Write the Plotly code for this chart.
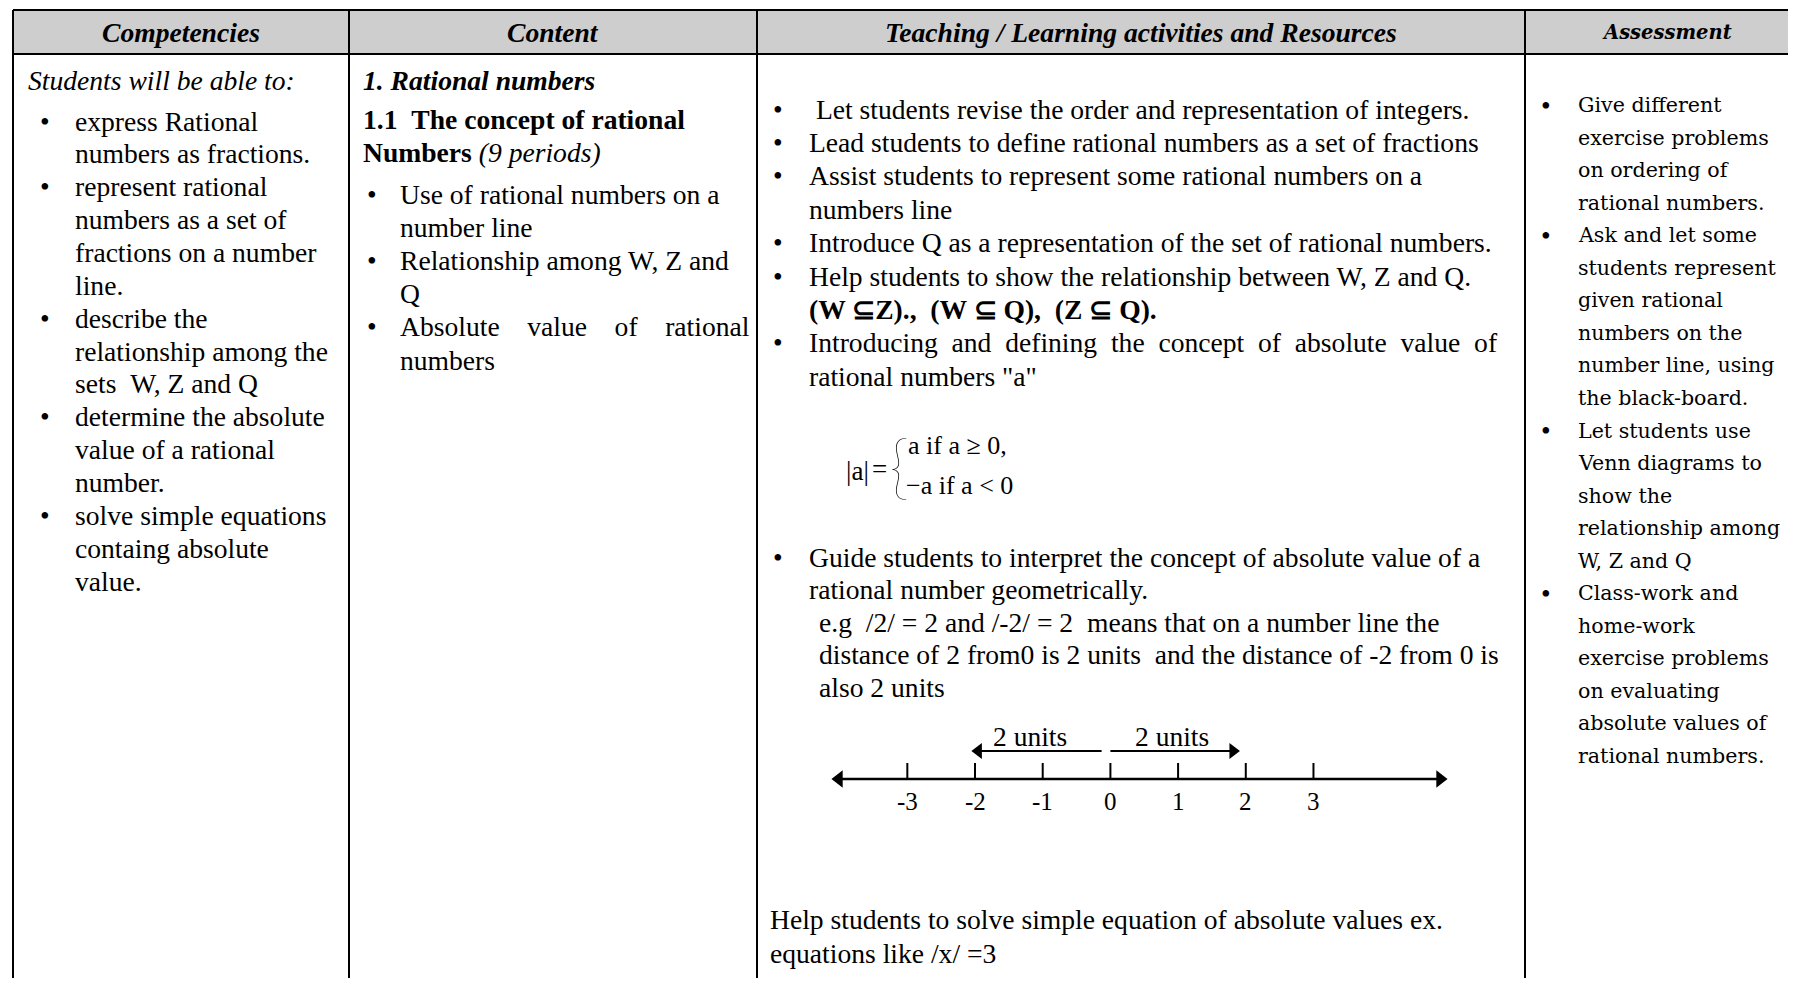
import re
import plotly.graph_objects as go

# ---- table content ----
headers = ["Competencies", "Content", "Teaching / Learning activities and Resources", "Assessment"]

competency_intro = "Students will be able to:"
competencies = [
    ["express Rational", "numbers as fractions."],
    ["represent rational", "numbers as a set of", "fractions on a number", "line."],
    ["describe the", "relationship among the", "sets  W, Z and Q"],
    ["determine the absolute", "value of a rational", "number."],
    ["solve simple equations", "containg absolute", "value."],
]

content_title = "1. Rational numbers"
content_heading = "1.1  The concept of rational"
content_heading2 = "Numbers"
content_periods = "(9 periods)"
content_items = [
    ["Use of rational numbers on a", "number line"],
    ["Relationship among W, Z and", "Q"],
    ["Absolute    value    of    rational", "numbers"],
]

teaching_items = [
    [" Let students revise the order and representation of integers."],
    ["Lead students to define rational numbers as a set of fractions"],
    ["Assist students to represent some rational numbers on a", "numbers line"],
    ["Introduce Q as a representation of the set of rational numbers."],
    ["Help students to show the relationship between W, Z and Q.",
     "<b>(W \u2286Z).,  (W \u2286 Q),  (Z \u2286 Q).</b>"],
    ["Introducing  and  defining  the  concept  of  absolute  value  of",
     "rational numbers \"a\""],
]
abs_lhs = ["|a|", "="]
abs_cases = ["a if a \u2265 0,", "\u2212a if a < 0"]
guide_item = ["Guide students to interpret the concept of absolute value of a",
              "rational number geometrically."]
guide_example = ["e.g  /2/ = 2 and /-2/ = 2  means that on a number line the",
                 "distance of 2 from0 is 2 units  and the distance of -2 from 0 is",
                 "also 2 units"]
closing_lines = ["Help students to solve simple equation of absolute values ex.",
                 "equations like /x/ =3"]

# number line (values in number-line units)
number_ticks = [-3, -2, -1, 0, 1, 2, 3]
number_line_ends = [-4.01, 4.87]
distance_arrows = [[-0.13, -1.95], [0.0, 1.81]]
distance_labels = ["2 units", "2 units"]
distance_label_at = [-1.19, 0.91]

assessment_items = [
    ["Give different", "exercise problems", "on ordering of", "rational numbers."],
    ["Ask and let some", "students represent", "given rational", "numbers on the",
     "number line, using", "the black-board."],
    ["Let students use", "Venn diagrams to", "show the", "relationship among", "W, Z and Q"],
    ["Class-work and", "home-work", "exercise problems", "on evaluating",
     "absolute values of", "rational numbers."],
]

# ---- page layout (pixels of the page) ----
SERIF = "Liberation Serif"
WIDE = "DejaVu Serif"
FS = 27.6
PAGE_W, PAGE_H = 1796, 986
BODY = 8  # default html body margin
col_edges = [13, 349, 757, 1525, 1809]
top_y, head_y = 10, 54
# number line scale: page x = NL0 + NL_UNIT * value
NL0, NL_UNIT = 1110.4, 67.69


def nb(s):
    s = re.sub(r" {2,}", lambda m: "\u00a0" * len(m.group()), s)
    if s.startswith(" "):
        s = "\u00a0" + s[1:]
    return s


ann = []


def put(x, y, s, size=FS, family=SERIF, xanchor="left", xref="x", weight=None):
    font = dict(family=family, size=size, color="black")
    if weight:
        font["weight"] = weight
    ann.append(dict(x=x, y=y, xref=xref, yref="y", text=nb(s), showarrow=False,
                    xanchor=xanchor, yanchor="middle", borderpad=0, font=font))


def bullets(items, y0, step, bx, tx, size=FS, family=SERIF):
    y = y0
    for item in items:
        for k, line in enumerate(item):
            if k == 0:
                put(bx, y, "\u2022", size=FS, family=SERIF, xanchor="center")
            put(tx, y, line, size=size, family=family)
            y += step
    return y


fig = go.Figure()

# header band and grid
shapes = [dict(type="rect", xref="x", yref="y", x0=col_edges[0], x1=col_edges[-1],
               y0=top_y, y1=head_y, fillcolor="#cecece", line_width=0, layer="below")]
shapes.append(dict(type="line", xref="x", yref="y", x0=col_edges[0], x1=col_edges[-1],
                   y0=top_y, y1=top_y, line=dict(color="black", width=2)))
shapes.append(dict(type="line", xref="x", yref="y", x0=col_edges[0], x1=col_edges[-1],
                   y0=head_y, y1=head_y, line=dict(color="black", width=2)))
for cx in col_edges[:-1]:
    shapes.append(dict(type="line", xref="x", yref="y", x0=cx, x1=cx,
                       y0=top_y, y1=PAGE_H + 5, line=dict(color="black", width=2)))

# header text
for i, h in enumerate(headers):
    cx = (col_edges[i] + col_edges[i + 1]) / 2
    if i == 3:
        put(cx, 32, "<b><i>%s</i></b>" % h, size=19.5, family=WIDE, xanchor="center")
    else:
        put(cx, 32, "<b><i>%s</i></b>" % h, xanchor="center")

# competencies
put(27, 80, "<i>%s</i>" % competency_intro)
bullets(competencies, 121, 32.86, 45, 74)

# content
put(362, 80, "<b><i>%s</i></b>" % content_title)
put(362, 119, "<b>%s</b>" % content_heading)
put(362, 152, "<b>%s</b> <i>%s</i>" % (content_heading2, content_periods))
bullets(content_items, 194, 33.2, 372, 399)

# teaching / learning
bullets(teaching_items, 109, 33.4, 778, 808)
put(845, 471, abs_lhs[0], size=27)
put(879, 469, abs_lhs[1], size=27, xanchor="center")
put(899, 464, "{", size=70, family="Lato", weight=200, xanchor="center")
put(907, 445, abs_cases[0], size=26)
put(905, 485, abs_cases[1], size=26)
bullets([guide_item], 557, 32.8, 778, 808)
for k, line in enumerate(guide_example):
    put(818, 622 + 32.5 * k, line)
for k, line in enumerate(closing_lines):
    put(769, 919 + 34 * k, line)

# number line
line_y, tick_top, label_y, dist_y, dist_label_y = 779, 763, 801, 751, 736
fig.add_trace(go.Scatter(x=number_line_ends, y=[line_y, line_y], xaxis="x2", yaxis="y",
                         mode="lines", line=dict(color="black", width=2.5),
                         hoverinfo="skip"))
fig.add_trace(go.Scatter(x=number_line_ends, y=[line_y, line_y], xaxis="x2", yaxis="y",
                         mode="markers", hoverinfo="skip",
                         marker=dict(symbol=["triangle-left", "triangle-right"], size=15,
                                     color="black")))
tx, ty = [], []
for v in number_ticks:
    tx += [v, v, None]
    ty += [tick_top, line_y, None]
fig.add_trace(go.Scatter(x=tx, y=ty, xaxis="x2", yaxis="y", mode="lines",
                         line=dict(color="black", width=2), hoverinfo="skip"))
for v in number_ticks:
    put(v, label_y, str(v), size=25, xanchor="center", xref="x2")
for (a, b), lab, at in zip(distance_arrows, distance_labels, distance_label_at):
    fig.add_trace(go.Scatter(x=[a, b], y=[dist_y, dist_y], xaxis="x2", yaxis="y",
                             mode="lines", line=dict(color="black", width=2),
                             hoverinfo="skip"))
    fig.add_trace(go.Scatter(x=[b], y=[dist_y], xaxis="x2", yaxis="y", mode="markers",
                             hoverinfo="skip",
                             marker=dict(symbol="triangle-left" if b < a else "triangle-right",
                                         size=14, color="black")))
    put(at, dist_label_y, lab, size=27.5, xanchor="center", xref="x2")

# assessment
bullets(assessment_items, 105, 32.55, 1546, 1577, size=20.6, family=WIDE)

x_lo, x_hi = BODY, PAGE_W - BODY
y_lo, y_hi = BODY, PAGE_H - BODY
fig.update_layout(
    width=PAGE_W - 2 * BODY, height=PAGE_H - 2 * BODY,
    margin=dict(l=0, r=0, t=0, b=0, pad=0),
    paper_bgcolor="white", plot_bgcolor="white",
    showlegend=False,
    xaxis=dict(range=[x_lo, x_hi], visible=False, fixedrange=True),
    xaxis2=dict(range=[(x_lo - NL0) / NL_UNIT, (x_hi - NL0) / NL_UNIT],
                overlaying="x", visible=False, fixedrange=True),
    yaxis=dict(range=[y_hi, y_lo], visible=False, fixedrange=True),
    shapes=shapes,
    annotations=ann,
)

fig.write_html("out.html", config={"displayModeBar": False})
